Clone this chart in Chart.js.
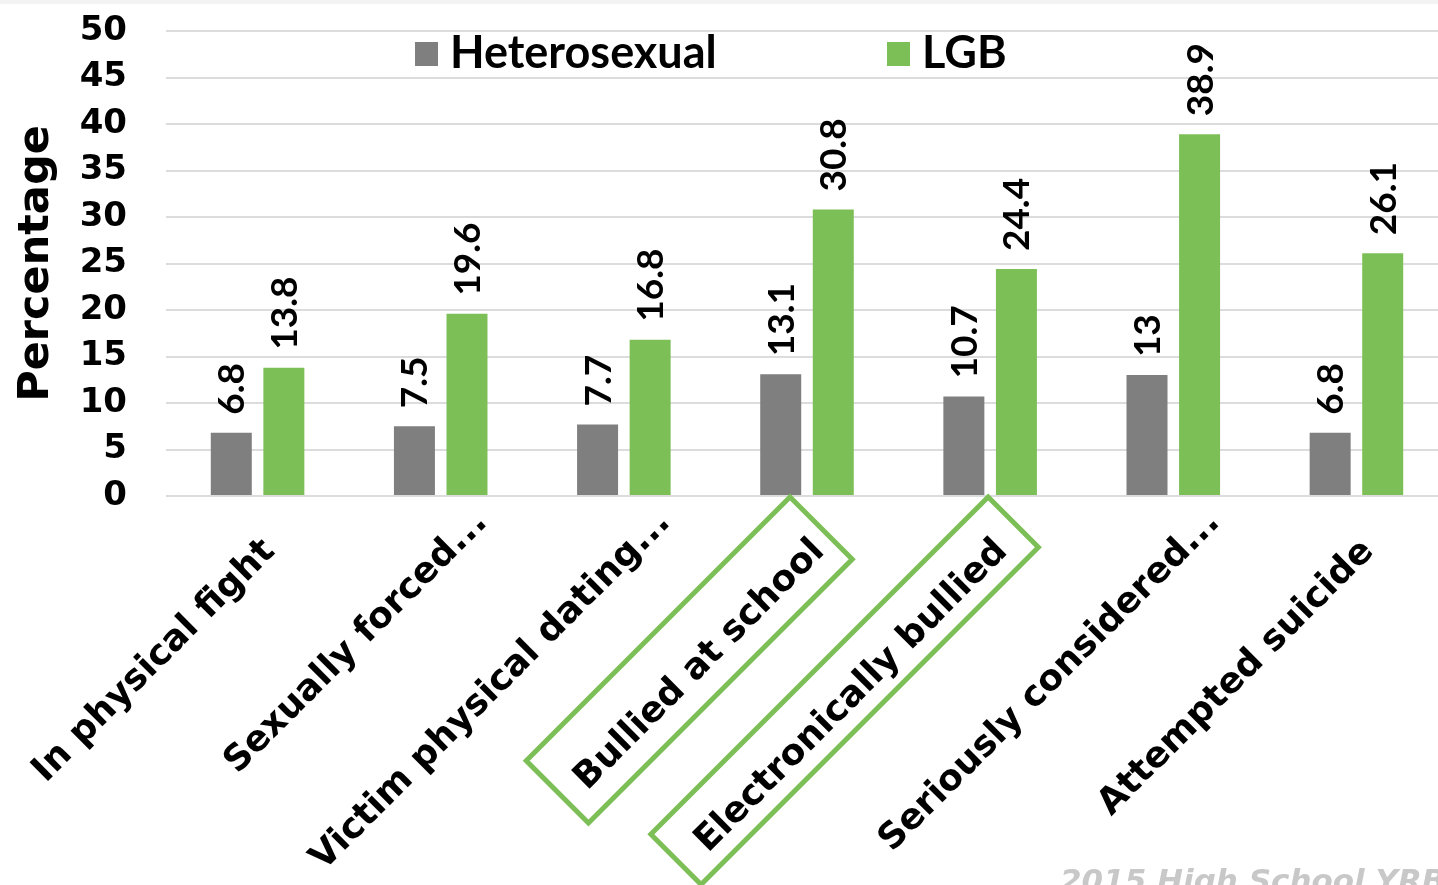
<!DOCTYPE html>
<html>
<head>
<meta charset="utf-8">
<script src="https://cdn.jsdelivr.net/npm/chart.js@4.4.1/dist/chart.umd.min.js"></script>
<style>
  html, body { margin: 0; padding: 0; background: #fff; overflow: hidden; width: 1438px; height: 885px; }
  #wrap { position: relative; width: 1438px; height: 885px; overflow: hidden; }
  #band { position: absolute; left: 0; top: 0; width: 1438px; height: 4px; background: #f3f3f3; }
  canvas { position: absolute; left: 0; top: 0; }
</style>
</head>
<body>
<div id="wrap">
  <canvas id="chart" width="1450" height="885"></canvas>
  <div id="band"></div>
</div>
<script>
// Risk behaviours by sexual identity (percent of students)
const categories = [
  'In physical fight',
  'Sexually forced...',
  'Victim physical dating...',
  'Bullied at school',
  'Electronically bullied',
  'Seriously considered...',
  'Attempted suicide'
];
const heterosexualValues = [6.8, 7.5, 7.7, 13.1, 10.7, 13, 6.8];
const lgbValues = [13.8, 19.6, 16.8, 30.8, 24.4, 38.9, 26.1];
const seriesNames = ['Heterosexual', 'LGB'];
const yMin = 0, yMax = 50, yStep = 5;
const highlightedCategories = ['Bullied at school', 'Electronically bullied'];
const sourceNote = '2015 High School YRBS';

const TEXT_FONT = 'Lato, "Noto Sans", sans-serif';
const WIDE_FONT = '"DejaVu Sans", Verdana, sans-serif';
const GRAY = '#7f7f7f';
const GREEN = '#7dbf57';

// Vertical value labels above each bar
const valueLabels = {
  id: 'valueLabels',
  afterDatasetsDraw(chart) {
    const ctx = chart.ctx;
    ctx.save();
    ctx.font = 'bold 37px ' + TEXT_FONT;
    ctx.fillStyle = '#000';
    ctx.textAlign = 'left';
    ctx.textBaseline = 'middle';
    chart.data.datasets.forEach((ds, di) => {
      chart.getDatasetMeta(di).data.forEach((bar, i) => {
        ctx.save();
        ctx.translate(bar.x + 1, bar.y - 18);
        ctx.rotate(-Math.PI / 2);
        ctx.fillText(String(ds.data[i]), 0, 0);
        ctx.restore();
      });
    });
    ctx.restore();
  }
};

// Category names, slanted 45°, right-aligned at each tick; a trailing
// ellipsis on shortened names runs on past the anchor.
const slantedCategoryLabels = {
  id: 'slantedCategoryLabels',
  afterDraw(chart, args, opts) {
    const ctx = chart.ctx;
    const xs = chart.scales.x;
    ctx.save();
    ctx.font = 'bold 36px ' + WIDE_FONT;
    ctx.fillStyle = '#000';
    ctx.textBaseline = 'middle';
    chart.data.labels.forEach((label, i) => {
      const cut = label.endsWith('...');
      const head = cut ? label.slice(0, -3) : label;
      ctx.save();
      ctx.translate(xs.getPixelForValue(i) + opts.dx, xs.top + opts.dy);
      ctx.rotate(-Math.PI / 4);
      ctx.textAlign = 'right';
      ctx.fillText(head, 0, 0);
      if (cut) {
        ctx.textAlign = 'left';
        ctx.fillText('...', 0, 0);
      }
      ctx.restore();
    });
    ctx.restore();
  }
};

// Legend drawn inside the plot, over the top gridlines
const insideLegend = {
  id: 'insideLegend',
  afterDraw(chart, args, opts) {
    const ctx = chart.ctx;
    ctx.save();
    ctx.font = 'bold 45px ' + TEXT_FONT;
    ctx.textAlign = 'left';
    ctx.textBaseline = 'alphabetic';
    chart.data.datasets.forEach((ds, i) => {
      const x = opts.itemX[i];
      ctx.fillStyle = ds.backgroundColor;
      ctx.fillRect(x, opts.boxTop, 23, 24);
      ctx.fillStyle = '#000';
      ctx.fillText(ds.label, x + 35, opts.baseline);
    });
    ctx.restore();
  }
};

// Outlined call-outs around selected category labels, plus the source note
const callouts = {
  id: 'callouts',
  afterDraw(chart, args, opts) {
    const ctx = chart.ctx;
    const xs = chart.scales.x;
    ctx.save();
    ctx.strokeStyle = GREEN;
    ctx.lineWidth = 5;
    ctx.lineJoin = 'miter';
    highlightedCategories.forEach((name, k) => {
      const idx = categories.indexOf(name);
      const shape = opts.shapes[k];
      const tx = xs.getPixelForValue(idx) + shape.dx;
      const ty = xs.top + 1;
      const u = [-Math.SQRT1_2, Math.SQRT1_2];   // along the label
      const v = [Math.SQRT1_2, Math.SQRT1_2];    // across the label
      const p1 = [tx + v[0] * shape.w, ty + v[1] * shape.w];
      const p2 = [p1[0] + u[0] * shape.len, p1[1] + u[1] * shape.len];
      const p3 = [tx + u[0] * shape.len, ty + u[1] * shape.len];
      ctx.beginPath();
      ctx.moveTo(tx, ty);
      ctx.lineTo(p1[0], p1[1]);
      ctx.lineTo(p2[0], p2[1]);
      ctx.lineTo(p3[0], p3[1]);
      ctx.closePath();
      ctx.stroke();
    });
    ctx.font = 'italic bold 31px ' + WIDE_FONT;
    ctx.fillStyle = '#c8c8c8';
    ctx.textAlign = 'left';
    ctx.textBaseline = 'alphabetic';
    ctx.fillText(sourceNote, 1060, 891);
    ctx.restore();
  }
};

new Chart(document.getElementById('chart'), {
  type: 'bar',
  data: {
    labels: categories,
    datasets: [
      { label: seriesNames[0], data: heterosexualValues, backgroundColor: GRAY },
      { label: seriesNames[1], data: lgbValues, backgroundColor: GREEN }
    ]
  },
  options: {
    responsive: false,
    animation: false,
    events: [],
    layout: { padding: { top: 31, right: 2, left: 0, bottom: 0 } },
    datasets: { bar: { categoryPercentage: 0.574, barPercentage: 0.78 } },
    plugins: {
      legend: { display: false },
      tooltip: { enabled: false },
      slantedCategoryLabels: { dx: 12, dy: 50 },
      insideLegend: { itemX: [415, 887], boxTop: 42, baseline: 68 },
      callouts: { shapes: [ { dx: -17, w: 88, len: 373 }, { dx: -2, w: 71, len: 477 } ] }
    },
    scales: {
      x: {
        grid: { display: false },
        border: { display: false },
        ticks: { display: false },
        afterFit(scale) {
          scale.height = 885 - 496;
          scale.paddingLeft = 0;
          scale.paddingRight = 0;
        }
      },
      y: {
        min: yMin,
        max: yMax,
        grid: { color: '#dcdcdc', lineWidth: 2, drawTicks: false },
        border: { display: false },
        ticks: {
          stepSize: yStep,
          color: '#000',
          padding: 39,
          font: { family: WIDE_FONT, size: 34, weight: 'bold' }
        },
        title: {
          display: true,
          text: 'Percentage',
          color: '#000',
          font: { family: WIDE_FONT, size: 43, weight: 'bold' },
          padding: { top: 11, bottom: 0 }
        },
        afterFit(scale) {
          scale.width = 166;
          scale.paddingTop = 0;
          scale.paddingBottom = 0;
        }
      }
    }
  },
  plugins: [valueLabels, slantedCategoryLabels, insideLegend, callouts]
});
</script>
</body>
</html>
